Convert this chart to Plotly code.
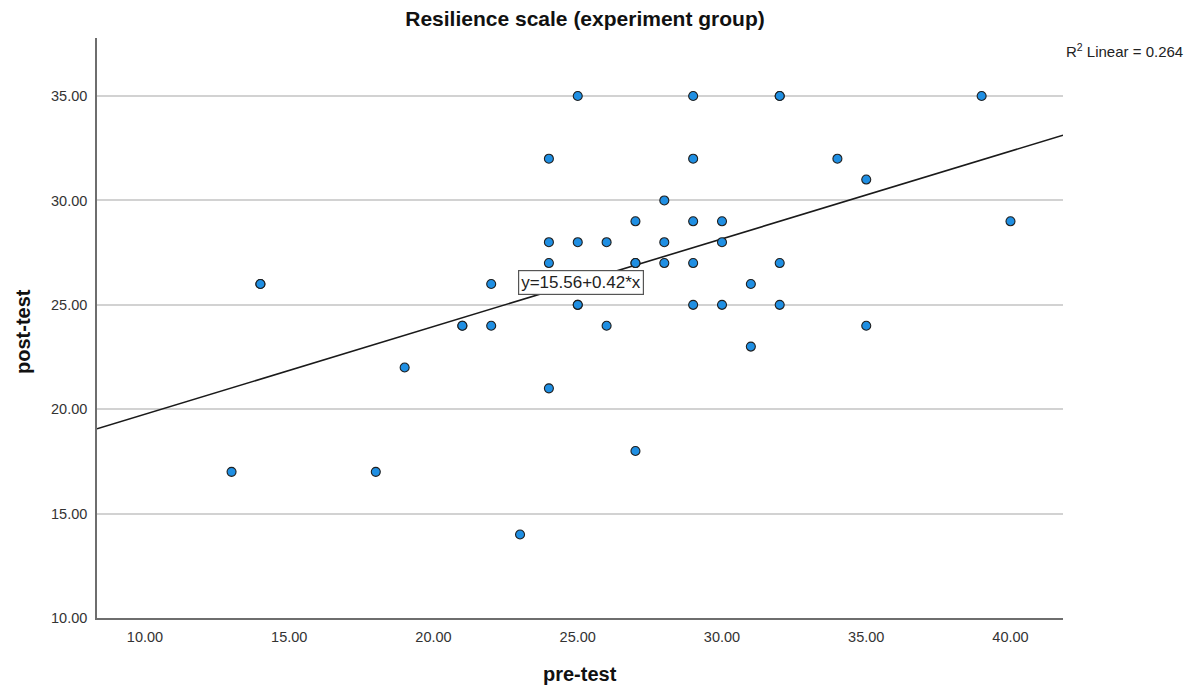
import plotly.graph_objects as go

# Data (pre-test vs post-test), duplicates included
pre_test = [13, 14, 14, 18, 19, 21, 21, 22, 22, 23,
            24, 24, 24, 24, 25, 25, 25, 25, 26, 26,
            27, 27, 27, 27, 28, 28, 28, 29, 29, 29,
            29, 29, 30, 30, 30, 31, 31, 32, 32, 32,
            32, 34, 35, 35, 39, 40]
post_test = [17, 26, 26, 17, 22, 24, 24, 26, 24, 14,
             32, 28, 27, 21, 35, 28, 25, 25, 28, 24,
             29, 27, 27, 18, 30, 28, 27, 35, 32, 29,
             27, 25, 29, 28, 25, 26, 23, 35, 35, 27,
             25, 32, 31, 24, 35, 29]

intercept = 15.56
slope = 0.42
r2 = 0.264

x_range = [8.336, 41.82]
y_range = [10.0, 37.78]
x_ticks = [10, 15, 20, 25, 30, 35, 40]
y_ticks = [10, 15, 20, 25, 30, 35]

font_family = "Liberation Sans, Arial, sans-serif"

fig = go.Figure()

# Fit line across the full x axis
line_x = x_range
line_y = [intercept + slope * v for v in line_x]
fig.add_trace(go.Scatter(x=line_x, y=line_y, mode="lines",
                         line=dict(color="#1a1a1a", width=1.6),
                         hoverinfo="skip", showlegend=False, cliponaxis=True))

fig.add_trace(go.Scatter(x=pre_test, y=post_test, mode="markers",
                         marker=dict(size=9, color="#1f8fe3",
                                     line=dict(color="#1f1f1f", width=1.1)),
                         showlegend=False, cliponaxis=False))

fig.update_layout(
    width=1194, height=687,
    margin=dict(l=97, r=131, t=38, b=69),
    paper_bgcolor="white", plot_bgcolor="white",
    font=dict(family=font_family, color="#222222"),
    title=dict(text="<b>Resilience scale (experiment group)</b>",
               x=585 / 1194, xanchor="center",
               y=1 - 19 / 687, yanchor="middle",
               font=dict(size=21, color="#111111", family=font_family)),
    xaxis=dict(range=x_range, tickvals=x_ticks,
               ticktext=[f"{v:.2f}" for v in x_ticks],
               showgrid=False, zeroline=False,
               showline=True, linecolor="#6e6e6e", linewidth=1.5,
               ticks="outside", ticklen=5, tickcolor="rgba(0,0,0,0)",
               tickfont=dict(size=14.5, color="#333333", family=font_family)),
    yaxis=dict(range=y_range, tickvals=y_ticks,
               ticktext=[f"{v:.2f}" for v in y_ticks],
               showgrid=True, gridcolor="#d2d2d2", gridwidth=1.6,
               zeroline=False,
               showline=True, linecolor="#6e6e6e", linewidth=1.5,
               ticks="outside", ticklen=5, tickcolor="rgba(0,0,0,0)",
               tickfont=dict(size=14.5, color="#333333", family=font_family)),
)

# Equation label box on the fit line
fig.add_annotation(x=25.1, y=26.07, xref="x", yref="y",
                   text=f"y={intercept:.2f}+{slope:.2f}*x", showarrow=False,
                   font=dict(size=17, color="#222222", family=font_family),
                   bgcolor="white", bordercolor="#555555", borderwidth=1.2,
                   borderpad=2)

# R^2 label
fig.add_annotation(x=1.001, y=(618 - 51) / 580, xref="paper", yref="paper",
                   xanchor="left", yanchor="middle",
                   text=f"R<sup>2</sup> Linear = {r2:.3f}", showarrow=False,
                   font=dict(size=15, color="#222222", family=font_family))

# Axis titles
fig.add_annotation(x=0.5, y=-(674 - 618) / 580, xref="paper", yref="paper",
                   xanchor="center", yanchor="middle",
                   text="<b>pre-test</b>", showarrow=False,
                   font=dict(size=20, color="#111111", family=font_family))
fig.add_annotation(x=-(97 - 23) / 966, y=(618 - 332) / 580, xref="paper", yref="paper",
                   xanchor="center", yanchor="middle", textangle=-90,
                   text="<b>post-test</b>", showarrow=False,
                   font=dict(size=20, color="#111111", family=font_family))

fig.write_html("out.html", config={"displayModeBar": False},
               post_script="document.body.style.margin='0px';document.body.style.overflow='hidden';")
